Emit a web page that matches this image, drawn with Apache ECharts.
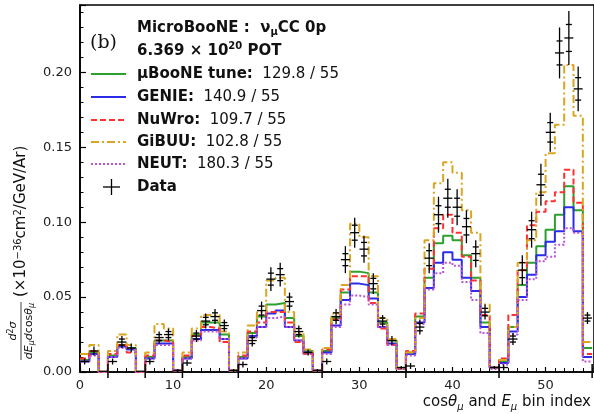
<!DOCTYPE html>
<html>
<head>
<meta charset="utf-8">
<script src="https://cdn.jsdelivr.net/npm/echarts@6/dist/echarts.min.js"></script>
<style>
  html, body { margin: 0; padding: 0; background: #fff; }
  #chart { width: 594px; height: 414px; }
</style>
</head>
<body>
<div id="chart"></div>
<script>
// cross section per bin (x 10^-36 cm^2/GeV/Ar), bin index 0..54
var dataVal  = [0.007, 0.014, 0.0005, 0.007, 0.020, 0.016, 0.0005, 0.007, 0.023, 0.025, 0.001,
                0.006, 0.024, 0.034, 0.037, 0.031, 0.001,
                0.005, 0.021, 0.041, 0.062, 0.065, 0.047, 0.027, 0.013, 0.001,
                0.007, 0.037, 0.075, 0.093, 0.082, 0.059, 0.034, 0.021, 0.003,
                0.004, 0.030, 0.076, 0.105, 0.116, 0.110, 0.097, 0.079, 0.040, 0.003,
                0.003, 0.022, 0.068, 0.095, 0.125, 0.160, 0.213, 0.223, 0.189, 0.036];
// total uncertainty (outer bar) and stat-only (inner ticks)
var dataErr  = [0.002, 0.003, 0, 0.002, 0.004, 0.003, 0, 0.002, 0.004, 0.004, 0.001,
                0.002, 0.004, 0.005, 0.005, 0.004, 0.001,
                0.002, 0.004, 0.006, 0.008, 0.008, 0.006, 0.004, 0.002, 0.001,
                0.002, 0.005, 0.009, 0.010, 0.009, 0.007, 0.004, 0.003, 0.001,
                0.002, 0.005, 0.010, 0.012, 0.013, 0.012, 0.011, 0.009, 0.005, 0.001,
                0.002, 0.004, 0.010, 0.012, 0.014, 0.013, 0.017, 0.018, 0.015, 0.004];
var dataStat = [0.001, 0.0015, 0, 0.001, 0.002, 0.0015, 0, 0.001, 0.002, 0.002, 0.0005,
                0.001, 0.002, 0.0025, 0.0025, 0.002, 0.0005,
                0.001, 0.002, 0.003, 0.004, 0.004, 0.003, 0.002, 0.001, 0.0005,
                0.001, 0.0025, 0.004, 0.005, 0.0045, 0.0035, 0.002, 0.0015, 0.0005,
                0.001, 0.0025, 0.005, 0.006, 0.006, 0.006, 0.0055, 0.0045, 0.0025, 0.0005,
                0.001, 0.002, 0.005, 0.006, 0.007, 0.0065, 0.008, 0.009, 0.0075, 0.002];

var uboone = [0.008, 0.013, 0, 0.011, 0.018, 0.016, 0, 0.010, 0.021, 0.021, 0.001,
              0.010, 0.025, 0.033, 0.033, 0.025, 0.001,
              0.010, 0.026, 0.037, 0.045, 0.046, 0.036, 0.024, 0.014, 0.001,
              0.014, 0.036, 0.053, 0.067, 0.066, 0.053, 0.033, 0.021, 0.002,
              0.013, 0.037, 0.063, 0.086, 0.091, 0.088, 0.078, 0.063, 0.033, 0.003,
              0.007, 0.030, 0.058, 0.073, 0.084, 0.095, 0.105, 0.124, 0.108, 0.016];
var genie  = [0.007, 0.012, 0, 0.010, 0.017, 0.015, 0, 0.009, 0.019, 0.019, 0.001,
              0.009, 0.022, 0.028, 0.028, 0.022, 0.001,
              0.009, 0.024, 0.030, 0.039, 0.041, 0.030, 0.021, 0.013, 0.001,
              0.013, 0.031, 0.048, 0.059, 0.058, 0.049, 0.030, 0.019, 0.002,
              0.012, 0.033, 0.056, 0.073, 0.080, 0.075, 0.063, 0.054, 0.030, 0.003,
              0.006, 0.027, 0.050, 0.065, 0.078, 0.087, 0.094, 0.110, 0.094, 0.010];
var nuwro  = [0.009, 0.014, 0, 0.012, 0.018, 0.013, 0, 0.011, 0.021, 0.020, 0.001,
              0.011, 0.024, 0.030, 0.029, 0.020, 0.001,
              0.011, 0.027, 0.033, 0.040, 0.040, 0.033, 0.020, 0.012, 0.001,
              0.015, 0.035, 0.055, 0.064, 0.064, 0.046, 0.029, 0.018, 0.002,
              0.014, 0.039, 0.069, 0.096, 0.105, 0.093, 0.077, 0.061, 0.038, 0.003,
              0.009, 0.038, 0.068, 0.098, 0.107, 0.114, 0.120, 0.135, 0.113, 0.012];
var gibuu  = [0.012, 0.018, 0, 0.014, 0.025, 0.018, 0, 0.013, 0.032, 0.029, 0.001,
              0.013, 0.029, 0.038, 0.038, 0.027, 0.001,
              0.013, 0.031, 0.040, 0.061, 0.063, 0.040, 0.026, 0.015, 0.001,
              0.016, 0.039, 0.058, 0.099, 0.090, 0.064, 0.036, 0.022, 0.002,
              0.013, 0.036, 0.088, 0.126, 0.140, 0.133, 0.108, 0.093, 0.045, 0.003,
              0.008, 0.030, 0.073, 0.088, 0.120, 0.146, 0.165, 0.205, 0.171, 0.020];
var neut   = [0.007, 0.011, 0, 0.010, 0.016, 0.015, 0, 0.009, 0.018, 0.018, 0.001,
              0.009, 0.021, 0.027, 0.027, 0.022, 0.001,
              0.009, 0.023, 0.030, 0.036, 0.037, 0.030, 0.021, 0.012, 0.001,
              0.012, 0.030, 0.045, 0.051, 0.050, 0.045, 0.030, 0.018, 0.002,
              0.011, 0.032, 0.055, 0.066, 0.073, 0.071, 0.060, 0.048, 0.026, 0.002,
              0.005, 0.025, 0.048, 0.062, 0.074, 0.077, 0.085, 0.096, 0.093, 0.007];

// edges between the cos(theta) slices
var groupEdges = [3, 7, 11, 17, 26, 35, 45, 55];

var models = [
  { name: 'μBooNE tune', chi2: '129.8 / 55', vals: uboone, color: '#2ca02c', dash: 'solid' },
  { name: 'GENIE',       chi2: '140.9 / 55', vals: genie,  color: '#2b2be8', dash: 'solid' },
  { name: 'NuWro',       chi2: '109.7 / 55', vals: nuwro,  color: '#ff3030', dash: [6, 3] },
  { name: 'GiBUU',       chi2: '102.8 / 55', vals: gibuu,  color: '#daa520', dash: [8, 3, 2, 3] },
  { name: 'NEUT',        chi2: '180.3 / 55', vals: neut,   color: '#ba55d3', dash: [2, 2] }
];

var FONT = 'DejaVu Sans';

// histogram outline: left edge of every bin, plus the closing edge
function stepData(vals) {
  var out = vals.map(function (v, i) { return [i, v]; });
  out.push([vals.length, vals[vals.length - 1]]);
  return out;
}

var series = models.map(function (m) {
  return {
    name: m.name,
    type: 'line',
    step: 'end',
    showSymbol: false,
    data: stepData(m.vals),
    lineStyle: { color: m.color, width: 2, type: m.dash },
    z: 3
  };
});

// data points with error bars
series.push({
  name: 'Data',
  type: 'custom',
  z: 5,
  data: dataVal.map(function (v, i) { return [i + 0.5, v, dataErr[i], dataStat[i]]; }),
  renderItem: function (params, api) {
    var x = api.value(0), y = api.value(1), e = api.value(2), s = api.value(3);
    var c = api.coord([x, y]);
    var t = api.coord([x, y + e]);
    var b = api.coord([x, Math.max(0, y - e)]);
    var st = api.coord([x, y + s]);
    var sb = api.coord([x, Math.max(0, y - s)]);
    var ls = { stroke: '#000', lineWidth: 1.3 };
    var kids = [
      { type: 'line', shape: { x1: c[0], y1: t[1], x2: c[0], y2: b[1] }, style: ls },
      { type: 'line', shape: { x1: c[0] - 4.5, y1: c[1], x2: c[0] + 4.5, y2: c[1] }, style: ls }
    ];
    if (s > 0.0015) {
      kids.push({ type: 'line', shape: { x1: c[0] - 3, y1: st[1], x2: c[0] + 3, y2: st[1] }, style: ls });
      kids.push({ type: 'line', shape: { x1: c[0] - 3, y1: sb[1], x2: c[0] + 3, y2: sb[1] }, style: ls });
    }
    return { type: 'group', children: kids };
  }
});

// long ticks across the x axis marking slice boundaries
series.push({
  type: 'custom',
  z: 6,
  silent: true,
  clip: false,
  data: groupEdges.map(function (g) { return [g, 0]; }),
  renderItem: function (params, api) {
    var p = api.coord([api.value(0), 0]);
    return { type: 'line', shape: { x1: p[0], y1: p[1] - 8, x2: p[0], y2: p[1] + 6 },
             style: { stroke: '#000', lineWidth: 1.5 } };
  }
});

// legend block drawn by hand to get the mixed bold / regular text
var rowY = [74, 97, 120, 142, 164];
var legendEls = [
  { type: 'text', x: 90, y: 43, style: { text: '(b)', font: '19px "DejaVu Serif"', fill: '#111', textVerticalAlign: 'middle' } },
  { type: 'text', x: 137, y: 28, style: {
      text: '{b|MicroBooNE :  ν}{s|μ}{b|CC 0p}', textVerticalAlign: 'middle', fill: '#111',
      rich: { b: { fontFamily: FONT, fontWeight: 'bold', fontSize: 15, lineHeight: 19 },
              s: { fontFamily: FONT, fontWeight: 'bold', fontSize: 10, lineHeight: 10, verticalAlign: 'bottom' } } } },
  { type: 'text', x: 137, y: 51, style: {
      text: '{b|6.369 × 10}{s|20}{b| POT}', textVerticalAlign: 'middle', fill: '#111',
      rich: { b: { fontFamily: FONT, fontWeight: 'bold', fontSize: 15, lineHeight: 19 },
              s: { fontFamily: FONT, fontWeight: 'bold', fontSize: 10, lineHeight: 10, verticalAlign: 'top' } } } }
];
models.forEach(function (m, k) {
  legendEls.push({ type: 'line', shape: { x1: 91, y1: rowY[k], x2: 126, y2: rowY[k] },
    style: { stroke: m.color, lineWidth: 2, lineDash: m.dash === 'solid' ? null : m.dash } });
  legendEls.push({ type: 'text', x: 137, y: rowY[k], style: {
    text: '{b|' + m.name + ':}{n|  ' + m.chi2 + '}', textVerticalAlign: 'middle', fill: '#111',
    rich: { b: { fontFamily: FONT, fontWeight: 'bold', fontSize: 15 },
            n: { fontFamily: FONT, fontSize: 15 } } } });
});
legendEls.push({ type: 'line', shape: { x1: 103, y1: 187, x2: 120, y2: 187 }, style: { stroke: '#000', lineWidth: 1.3 } });
legendEls.push({ type: 'line', shape: { x1: 111.5, y1: 179, x2: 111.5, y2: 195 }, style: { stroke: '#000', lineWidth: 1.3 } });
legendEls.push({ type: 'text', x: 137, y: 187, style: { text: 'Data', font: 'bold 15px "DejaVu Sans"', fill: '#111', textVerticalAlign: 'middle' } });

// axis titles
var titleEls = [
  { type: 'text', right: 3, bottom: 2, style: {
      text: 'cos{i|θ}{s|μ} and {i|E}{s|μ} bin index', fill: '#111', fontFamily: FONT, fontSize: 15,
      rich: { i: { fontFamily: FONT, fontStyle: 'italic', fontSize: 15, lineHeight: 19 },
              s: { fontFamily: FONT, fontStyle: 'italic', fontSize: 10, lineHeight: 10, verticalAlign: 'bottom' } } } },
  { type: 'group', x: 21, y: 360, rotation: Math.PI / 2, children: [
      { type: 'text', x: 29, y: -8, style: {
          text: '{i|d}{p|2}{i|σ}', textAlign: 'center', textVerticalAlign: 'middle', fill: '#111',
          rich: { i: { fontFamily: FONT, fontStyle: 'italic', fontSize: 11, lineHeight: 13 },
                  p: { fontFamily: FONT, fontSize: 8, lineHeight: 8, verticalAlign: 'top' } } } },
      { type: 'line', shape: { x1: 0, y1: 0, x2: 58, y2: 0 }, style: { stroke: '#111', lineWidth: 0.8 } },
      { type: 'text', x: 29, y: 8, style: {
          text: '{i|dE}{s|μ}{i|d}cos{i|θ}{s|μ}', textAlign: 'center', textVerticalAlign: 'middle', fill: '#111', fontFamily: FONT, fontSize: 11,
          rich: { i: { fontFamily: FONT, fontStyle: 'italic', fontSize: 11, lineHeight: 13 },
                  s: { fontFamily: FONT, fontStyle: 'italic', fontSize: 8, lineHeight: 8, verticalAlign: 'bottom' } } } },
      { type: 'text', x: 63, y: 0, style: {
          text: '(×10{p|−36}cm{p|2}/GeV/Ar)', textVerticalAlign: 'middle', fill: '#111', fontFamily: FONT, fontSize: 15,
          rich: { p: { fontFamily: FONT, fontSize: 10, lineHeight: 10, verticalAlign: 'top' } } } }
  ] }
];

var myChart = echarts.init(document.getElementById('chart'), null, { renderer: 'canvas' });
var option = {
  animation: false,
  backgroundColor: '#fff',
  grid: {
    left: 80, right: -3, top: 5, bottom: 42,
    show: true, borderColor: '#000', borderWidth: 1.6
  },
  xAxis: {
    type: 'value',
    min: 0, max: 55.2, interval: 10,
    axisLine: { lineStyle: { color: '#000', width: 1.6 } },
    axisTick: { inside: true, length: 5, lineStyle: { color: '#000', width: 1.2 } },
    minorTick: { show: true, splitNumber: 10, length: 4, lineStyle: { color: '#000', width: 1 } },
    splitLine: { show: false },
    axisLabel: { color: '#222', fontFamily: FONT, fontSize: 13, margin: 7, showMaxLabel: false }
  },
  yAxis: {
    type: 'value',
    min: 0, max: 0.245, interval: 0.05,
    axisLine: { show: true, lineStyle: { color: '#000', width: 1.6 } },
    axisTick: { show: true, inside: true, length: 6, lineStyle: { color: '#000', width: 1.2 } },
    minorTick: { show: true, splitNumber: 5, length: 3.5, lineStyle: { color: '#000', width: 1 } },
    splitLine: { show: false },
    axisLabel: { color: '#222', fontFamily: FONT, fontSize: 13, margin: 8, showMaxLabel: false,
                 formatter: function (v) { return v.toFixed(2); } }
  },
  graphic: legendEls.concat(titleEls),
  series: series
};
myChart.setOption(option);
window.addEventListener('resize', function () {
  myChart.resize();
});
</script>
</body>
</html>
